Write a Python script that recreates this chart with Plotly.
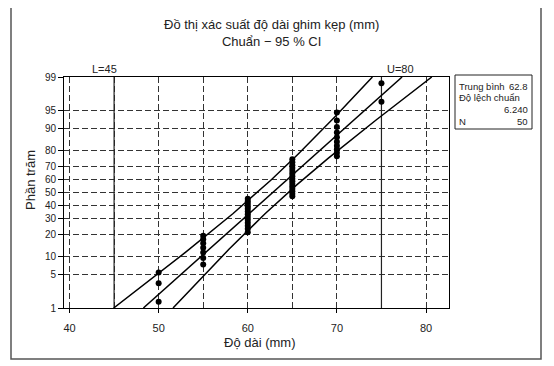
import numpy as np
from statistics import NormalDist
import plotly.graph_objects as go

# ---- data ----
lengths = [50, 55, 60, 65, 70, 75]          # measured lengths (mm)
counts = [3, 7, 13, 15, 10, 2]              # number of clips at each length
y_tick_pct = [1, 5, 10, 20, 30, 40, 50, 60, 70, 80, 90, 95, 99]
x_tick_vals = [40, 50, 60, 70, 80]
spec_lines = [45, 75]
spec_labels = ["L=45", "U=80"]

nd = NormalDist()
data = np.repeat(lengths, counts).astype(float)
n = len(data)
mean = data.mean()
sd = data.std(ddof=1)

# median ranks (Minitab style)
ranks = np.arange(1, n + 1)
pct = (ranks - 0.3) / (n + 0.4)
z_pts = np.array([nd.inv_cdf(p) for p in pct])

zlo = nd.inv_cdf(0.01)
zhi = nd.inv_cdf(0.99)
zgrid = np.linspace(zlo, zhi, 300)
x_fit = mean + sd * zgrid
se = sd * np.sqrt((1 + zgrid ** 2 / 2) / n)
x_lo = x_fit - 1.959964 * se
x_hi = x_fit + 1.959964 * se

OFF = 8  # page body margin
W, H = 554 - OFF, 366 - OFF
L, R, T, B = 64 - OFF, 105, 77 - OFF, 58
PW, PH = W - L - R, H - T - B


def px(x):
    return (x - OFF - L) / PW


def py(y):
    return (H - B - (y - OFF)) / PH


FONT = "Liberation Sans, Arial, sans-serif"
TXT = "#222222"

fig = go.Figure()
for xv in spec_lines:
    fig.add_trace(go.Scatter(x=[xv, xv], y=[zlo, zhi], mode="lines",
                             line=dict(color="#222", width=1.2), hoverinfo="skip"))
for xs in (x_fit, x_lo, x_hi):
    fig.add_trace(go.Scatter(x=xs, y=zgrid, mode="lines",
                             line=dict(color="black", width=1.5), hoverinfo="skip"))
fig.add_trace(go.Scatter(x=data, y=z_pts, mode="markers",
                         marker=dict(color="black", size=6), cliponaxis=False))

grid_kw = dict(gridcolor="#333333", griddash="6px,3px", gridwidth=1)
fig.update_xaxes(range=[39.38, 82.58], tickvals=x_tick_vals, ticks="outside",
                 ticklen=4, tickcolor="black", showline=True, mirror=True,
                 linecolor="black", linewidth=1, showgrid=True, zeroline=False,
                 minor=dict(dtick=5, tick0=40, showgrid=True, **grid_kw),
                 tickfont=dict(size=11, color=TXT, family=FONT),
                 ticklabelstandoff=6, **grid_kw)
fig.update_yaxes(range=[zlo, zhi], tickvals=[nd.inv_cdf(p / 100) for p in y_tick_pct],
                 ticktext=[str(p) for p in y_tick_pct], ticks="outside",
                 ticklen=5, tickcolor="black", showline=True, mirror=True,
                 linecolor="black", linewidth=1, showgrid=True, zeroline=False,
                 tickfont=dict(size=10, color=TXT, family=FONT), **grid_kw)

ann = []
ann.append(dict(x=px(271.5), y=py(33), xref="paper", yref="paper",
                text="Đồ thị xác suất độ dài ghim kẹp (mm)<br>Chuẩn − 95 % CI",
                showarrow=False, xanchor="center", yanchor="middle",
                font=dict(size=13, color=TXT, family=FONT)))
ann.append(dict(x=px(260), y=py(342), xref="paper", yref="paper",
                text="Độ dài (mm)", showarrow=False, xanchor="center", yanchor="middle",
                font=dict(size=13, color=TXT, family=FONT)))
ann.append(dict(x=px(30), y=py(180), xref="paper", yref="paper",
                text="Phần trăm", showarrow=False, textangle=-90,
                xanchor="center", yanchor="middle",
                font=dict(size=13, color=TXT, family=FONT)))
ann.append(dict(x=spec_lines[0], y=1, xref="x", yref="paper", text=spec_labels[0],
                showarrow=False, xanchor="right", yanchor="bottom", xshift=5,
                font=dict(size=11, color=TXT, family=FONT)))
ann.append(dict(x=spec_lines[1], y=1, xref="x", yref="paper", text=spec_labels[1],
                showarrow=False, xanchor="left", yanchor="bottom", xshift=4,
                font=dict(size=11, color=TXT, family=FONT)))

stats_rows = [("Trung bình", f"{mean:.1f}"), ("Độ lệch chuẩn", ""),
              ("", f"{sd:.3f}"), ("N", f"{n}")]
row_y = [86, 97.5, 109.5, 121]
for (lab, val), yy in zip(stats_rows, row_y):
    if lab:
        ann.append(dict(x=px(457), y=py(yy), xref="paper", yref="paper", text=lab,
                        showarrow=False, xanchor="left", yanchor="middle",
                        font=dict(size=9.5, color=TXT, family=FONT)))
    if val:
        ann.append(dict(x=px(530), y=py(yy), xref="paper", yref="paper", text=val,
                        showarrow=False, xanchor="right", yanchor="middle",
                        font=dict(size=9.5, color=TXT, family=FONT)))

shapes = [
    dict(type="rect", xref="paper", yref="paper", x0=px(455), x1=px(532),
         y0=py(129), y1=py(75), line=dict(color="#222", width=1)),
    dict(type="rect", xref="paper", yref="paper", x0=px(11), x1=px(541),
         y0=py(359), y1=py(5), line=dict(color="#555", width=1.5)),
]

fig.update_layout(width=W, height=H, margin=dict(l=L, r=R, t=T, b=B),
                  paper_bgcolor="white", plot_bgcolor="white", showlegend=False,
                  annotations=ann, shapes=shapes,
                  font=dict(family=FONT, color=TXT))

fig.write_html("out.html")
